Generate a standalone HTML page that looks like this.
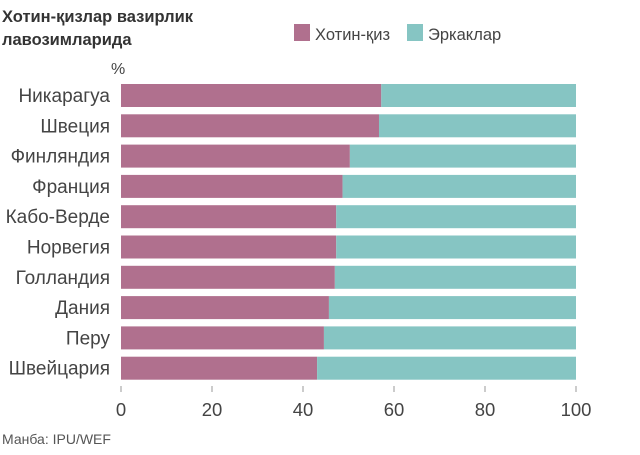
<!DOCTYPE html>
<html><head><meta charset="utf-8"><style>
body{margin:0;background:#fff;}
svg{display:block;font-family:"Liberation Sans",sans-serif;}
</style></head><body>
<svg id="c" width="640" height="455">
<text x="2" y="22" font-size="16.5" font-weight="bold" fill="#333">Хотин-қизлар вазирлик</text>
<text x="2" y="45" font-size="16.5" font-weight="bold" fill="#333">лавозимларида</text>
<rect x="294" y="24" width="16" height="17" fill="#b0708e"/>
<text x="315" y="40" font-size="16.5" fill="#444">Хотин-қиз</text>
<rect x="407" y="24" width="16" height="17" fill="#86c5c3"/>
<text x="428" y="40" font-size="16.5" fill="#444">Эркаклар</text>
<text x="111" y="74" font-size="16" fill="#444">%</text>
<text x="2" y="444" font-size="14" fill="#555">Манба: IPU/WEF</text>
<g id="bars"></g><g id="axis"></g>
</svg>
<script>
const categories=["Никарагуа","Швеция","Финляндия","Франция","Кабо-Верде","Норвегия","Голландия","Дания","Перу","Швейцария"];
const women=[57.2,56.7,50.3,48.7,47.3,47.3,47.0,45.7,44.6,43.1];
const total=[100,100,100,100,100,100,100,100,100,100];
const ticks=[0,20,40,60,80,100];
const NS="http://www.w3.org/2000/svg";
const x=v=>121+v*4.55;
const y=i=>84+i*30.3;
const bars=document.getElementById('bars'),axis=document.getElementById('axis');
function mk(t,a,p){const e=document.createElementNS(NS,t);for(const k in a)e.setAttribute(k,a[k]);p.appendChild(e);return e;}
categories.forEach((c,i)=>{
 let r=mk('rect',{x:x(0),y:y(i),width:x(women[i])-x(0),height:23,fill:'#b0708e'},bars);
 
 
 let r2=mk('rect',{x:x(women[i]),y:y(i),width:x(total[i])-x(women[i]),height:23,fill:'#86c5c3'},bars);
 
 
 let t=mk('text',{x:110,y:y(i)+18,'font-size':19,fill:'#444','text-anchor':'end'},bars);
 t.textContent=c;
 
 
});
ticks.forEach(v=>{
 let l=mk('line',{x1:x(v),x2:x(v),y1:386,y2:392,stroke:'#999'},axis);
 
 
 let t=mk('text',{x:x(v),y:416,'font-size':18.5,fill:'#444','text-anchor':'middle'},axis);
 t.textContent=v;
 
 
});
</script>
</body></html>
